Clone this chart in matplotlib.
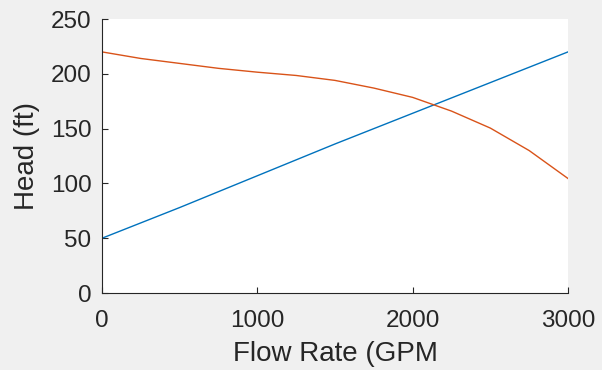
import matplotlib
matplotlib.use("Agg")
from matplotlib import pyplot as plt

# system curve (blue) and pump curve (orange)
flow_system = [0, 500, 1000, 1500, 2000, 2500, 3000]
head_system = [50, 78, 107, 136, 164, 192, 220]

flow_pump = [0, 250, 500, 750, 1000, 1250, 1500, 1750, 2000, 2250, 2500, 2750, 3000]
head_pump = [220, 214, 209.5, 205, 201.5, 198.5, 194, 187, 178.5, 166, 150.5, 130, 104.5]

plt.rcParams["font.family"] = ["Liberation Sans", "DejaVu Sans"]

fig = plt.figure(figsize=(6.02, 3.70), dpi=100, facecolor="#f0f0f0")
ax = fig.add_axes([0.1694, 0.208, 0.7741, 0.7406])
ax.set_facecolor("white")

ax.plot(flow_system, head_system, color="#0072bd", linewidth=1.0)
ax.plot(flow_pump, head_pump, color="#d95319", linewidth=1.0)

ax.set_xlim(0, 3000)
ax.set_ylim(0, 250)
ax.set_xticks([0, 1000, 2000, 3000])
ax.set_yticks([0, 50, 100, 150, 200, 250])
ax.tick_params(direction="in", length=4, width=0.8, labelsize=17.5, colors="#262626")
ax.tick_params(axis="x", pad=12)
ax.tick_params(axis="y", pad=7.5)
for side in ["top", "right"]:
    ax.spines[side].set_visible(False)
for side in ["left", "bottom"]:
    ax.spines[side].set_color("#262626")
    ax.spines[side].set_linewidth(0.8)

ax.set_xlabel("Flow Rate (GPM", fontsize=20, color="#262626", labelpad=7)
ax.set_ylabel("Head (ft)", fontsize=20, color="#262626", labelpad=8)

fig.savefig("out.png", dpi=100, facecolor=fig.get_facecolor())
